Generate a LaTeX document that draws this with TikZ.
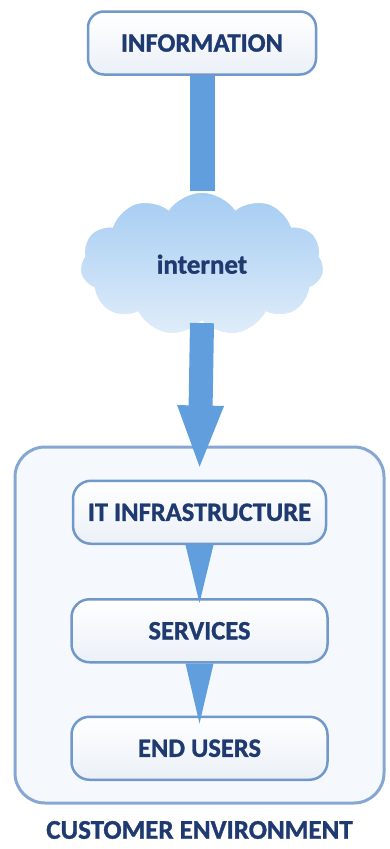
\documentclass[tikz,border=0pt]{standalone}
\usepackage{fontspec}
\setmainfont{Carlito}[BoldFeatures={FakeBold=1.2}]
\usetikzlibrary{positioning,shapes.symbols,arrows.meta}
\definecolor{BoxLine}{RGB}{112,152,202}
\definecolor{FlowBlue}{RGB}{96,158,222}
\definecolor{TextNavy}{RGB}{30,58,112}
\definecolor{EnvFill}{RGB}{245,249,254}
\definecolor{CloudTop}{RGB}{164,204,242}
\definecolor{CloudBottom}{RGB}{224,237,250}

\begin{document}
\begin{tikzpicture}[
            x=1pt, y=-1pt,
            stagebox/.style={
                draw=BoxLine, line width=2.5pt, rounded corners=18pt,
                top color=white, bottom color=BoxLine!14,
                minimum height=63pt, font=\fontsize{26.5}{30}\selectfont\bfseries,
                text=TextNavy
            },
            cloudnode/.style={
                cloud, cloud puffs=11, cloud puff arc=110, aspect=1.7,
                draw=white, line width=2pt, top color=CloudTop, bottom color=CloudBottom,
                minimum width=245pt, minimum height=145pt,
                font=\fontsize{27}{30}\selectfont\bfseries, text=TextNavy
            },
            envbox/.style={
                draw=BoxLine!85, line width=3pt, rounded corners=30pt, fill=EnvFill,
                minimum width=369pt, minimum height=356pt
            },
            flow/.style={fill=FlowBlue},
            tag/.style={font=\fontsize{27}{30}\selectfont\bfseries, text=TextNavy}
        ]
            \useasboundingbox (0,0) rectangle (389,849);

            % Source box
            \node[stagebox, minimum width=228pt, rounded corners=16pt] (info) at (202,43) {INFORMATION};

            % Internet cloud
            \node[cloudnode, below=115pt of info] (cloud) {internet};

            % Customer environment frame and its stages
            \node[envbox] (env) at (199.5,625) {};
            \node[stagebox, minimum width=253pt, below=34pt of env.north] (it) {IT INFRASTRUCTURE};
            \node[stagebox, minimum width=256pt, below=53pt of it] (services) {SERVICES};
            \node[stagebox, minimum width=256pt, below=52pt of services] (endusers) {END USERS};
            \node[tag, below=13pt of env] (envlabel) {CUSTOMER ENVIRONMENT};

            % Fat connectors
            \fill[flow] ([xshift=-12.5pt]info.south) rectangle ([xshift=12.5pt]cloud.north);
            \draw[FlowBlue, line width=24pt, -{Triangle[width=41pt,length=66pt]}]
                (cloud.south) -- ([yshift=8pt]it.north);
            \fill[flow] ([xshift=-14pt]it.south) -- ([xshift=14pt]it.south)
                -- ([yshift=-5pt]services.north) -- cycle;
            \fill[flow] ([xshift=-14pt]services.south) -- ([xshift=14pt]services.south)
                -- ([yshift=-8pt]endusers.north) -- cycle;
        \end{tikzpicture}
\end{document}
